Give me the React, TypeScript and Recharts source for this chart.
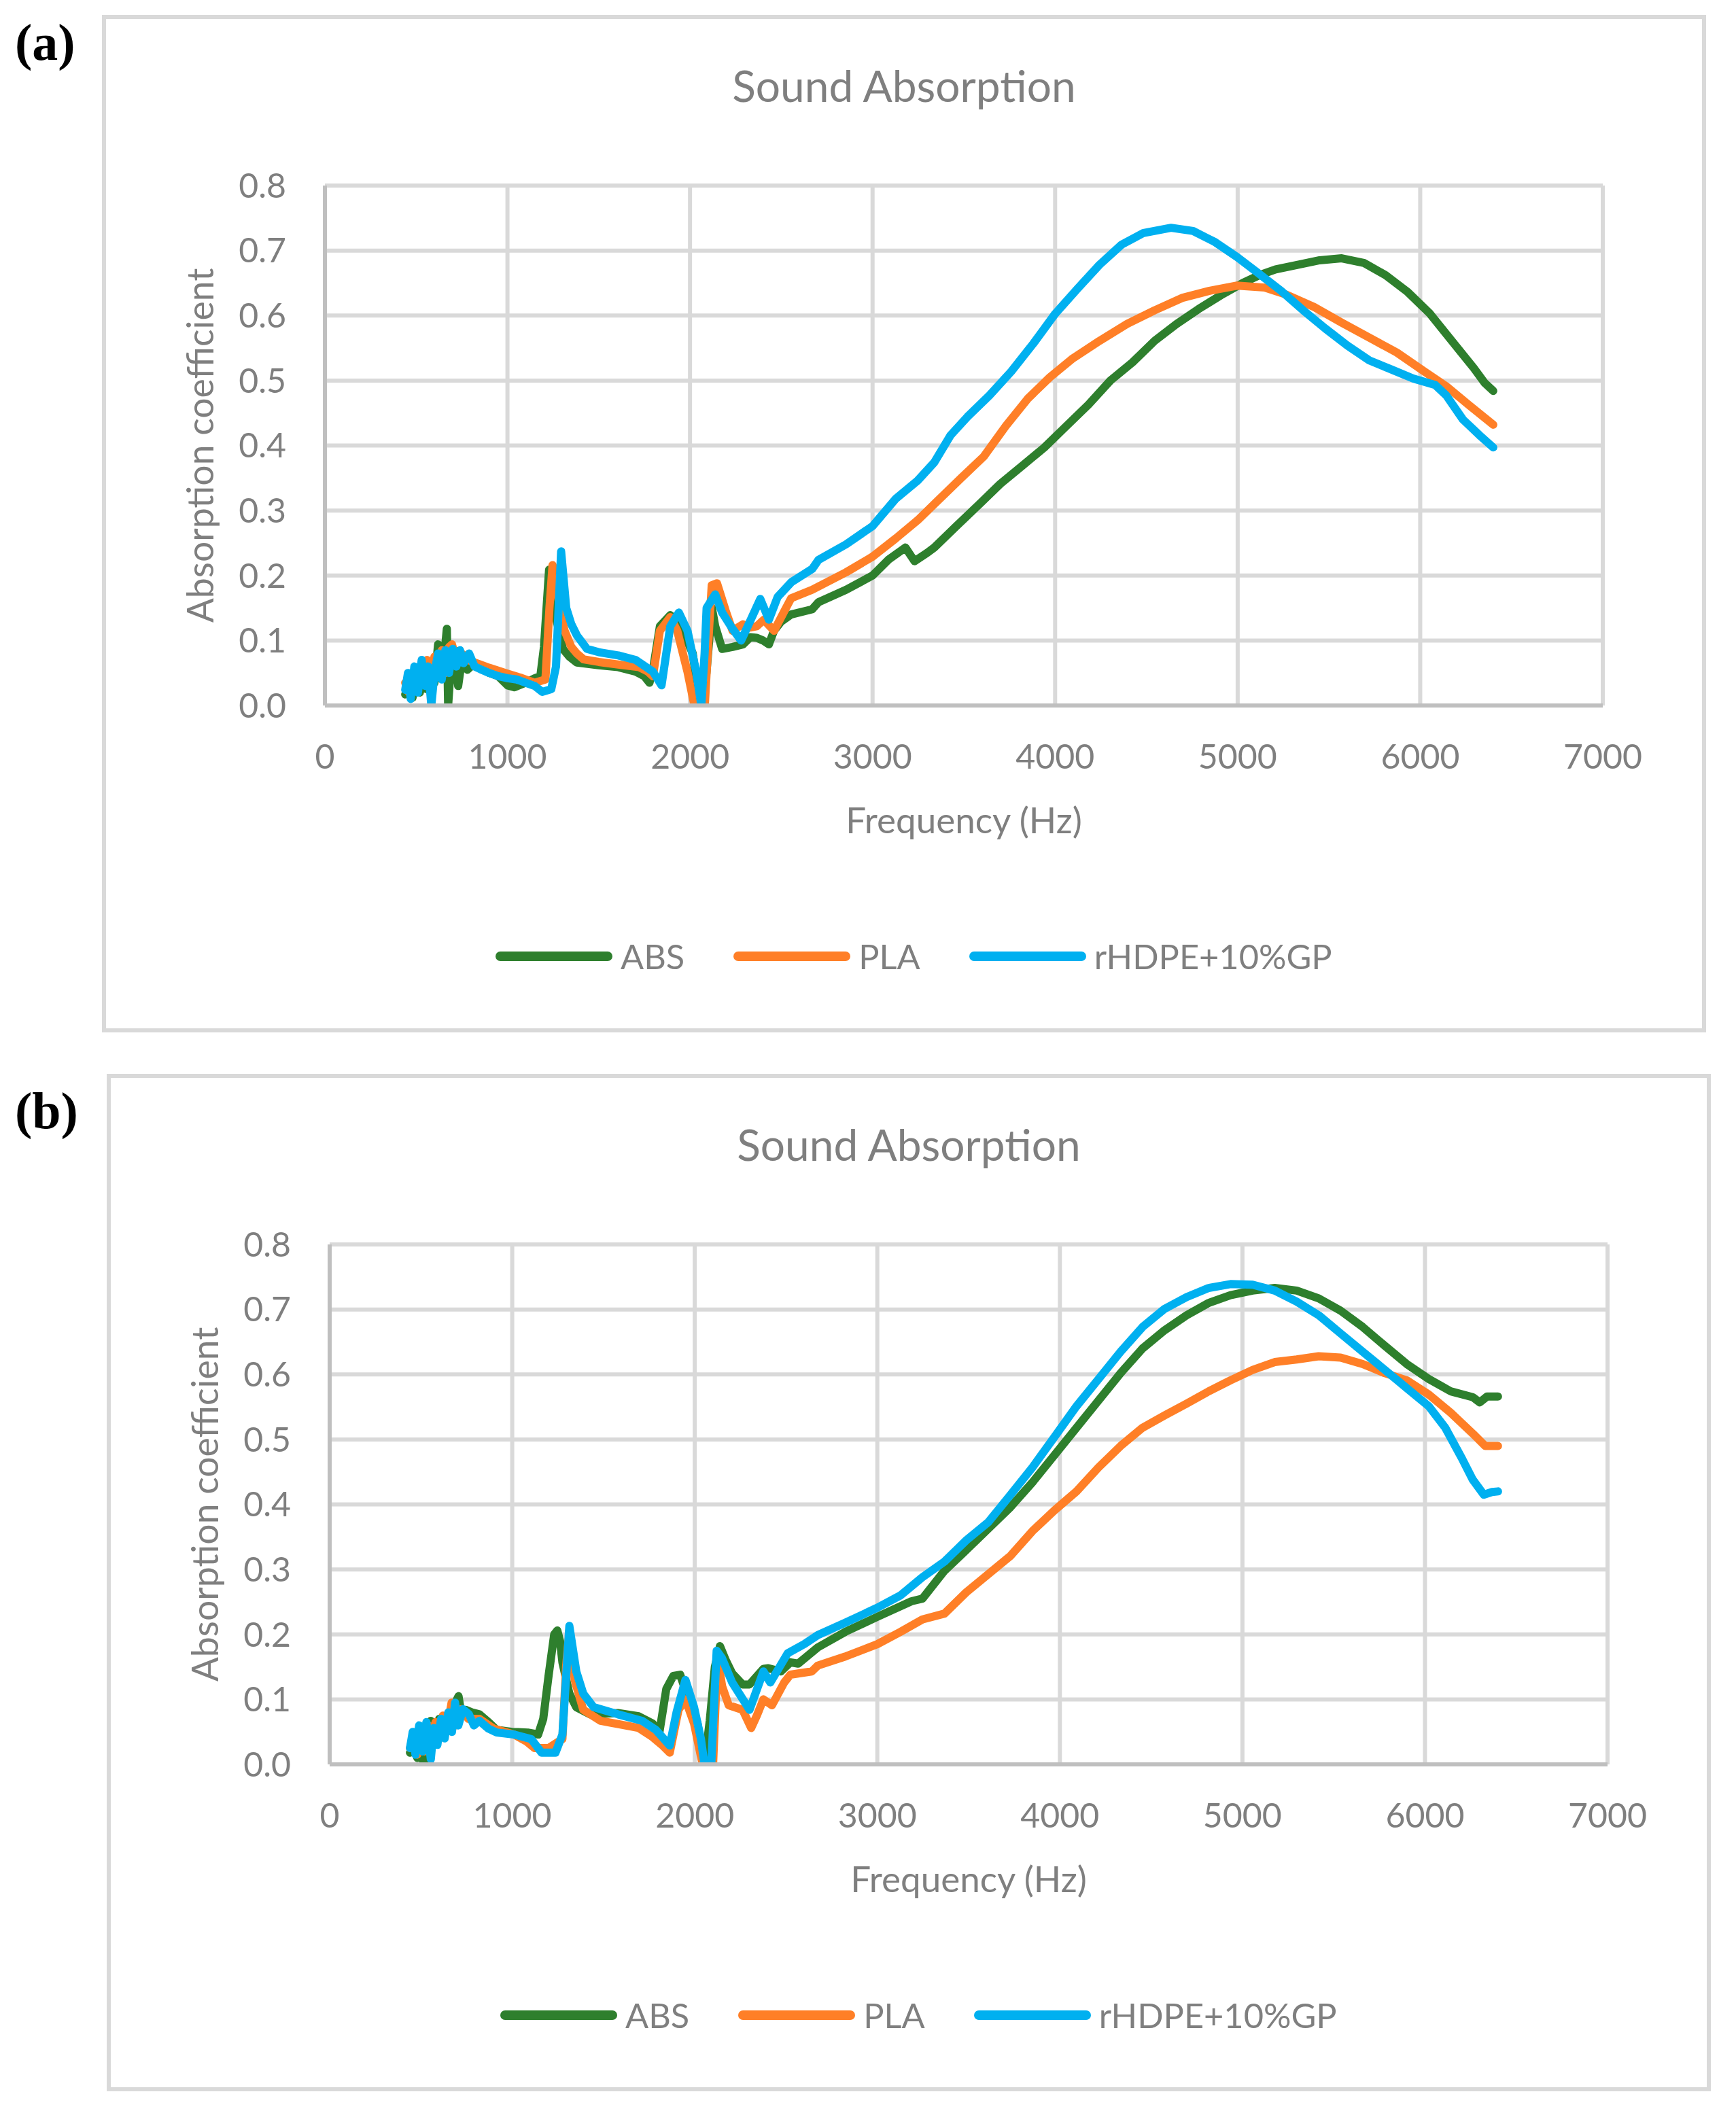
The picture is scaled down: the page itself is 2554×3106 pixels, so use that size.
import React from 'react';
import { LineChart, Line, XAxis, YAxis, CartesianGrid, Legend, Label } from 'recharts';

const X_TICKS = [0, 1000, 2000, 3000, 4000, 5000, 6000, 7000];
const Y_TICKS = [0, 0.1, 0.2, 0.3, 0.4, 0.5, 0.6, 0.7, 0.8];
const SERIES_NAMES = ['ABS', 'PLA', 'rHDPE+10%GP'];
const SERIES_COLORS = ['#2E7F2D', '#FF7F27', '#00B0F0'];

// Panel (a)
const ABS_A: [number, number][] = [
  [440, 0.017], [460, 0.03], [480, 0.012], [500, 0.04], [520, 0.02], [540, 0.05], [560, 0.025], [580, 0.06],
  [600, 0.035], [620, 0.094], [640, 0.05], [655, 0.08], [668, 0.118], [675, 0.0], [690, 0.06], [710, 0.085],
  [730, 0.03], [750, 0.07], [780, 0.055], [820, 0.065], [850, 0.059], [900, 0.05], [950, 0.045], [1000, 0.031],
  [1038, 0.028], [1100, 0.035], [1150, 0.042], [1180, 0.045], [1200, 0.09], [1228, 0.209], [1250, 0.2],
  [1270, 0.13], [1304, 0.087], [1340, 0.075], [1380, 0.066], [1500, 0.062], [1607, 0.059], [1702, 0.052],
  [1750, 0.045], [1778, 0.035], [1800, 0.06], [1835, 0.122], [1892, 0.139], [1949, 0.122], [2015, 0.08],
  [2040, 0.03], [2062, 0.0], [2090, 0.05], [2120, 0.15], [2138, 0.122], [2176, 0.087], [2233, 0.09],
  [2290, 0.094], [2330, 0.105], [2366, 0.104], [2400, 0.1], [2432, 0.094], [2460, 0.115], [2499, 0.129],
  [2554, 0.14], [2669, 0.148], [2704, 0.159], [2855, 0.178], [3000, 0.2], [3090, 0.225], [3180, 0.243],
  [3230, 0.222], [3300, 0.235], [3338, 0.243], [3459, 0.276], [3579, 0.308], [3700, 0.341], [3821, 0.369],
  [3941, 0.397], [4062, 0.43], [4183, 0.463], [4303, 0.5], [4424, 0.528], [4545, 0.561], [4665, 0.587],
  [4786, 0.61], [4907, 0.631], [5027, 0.65], [5118, 0.662], [5208, 0.671], [5329, 0.678], [5449, 0.685],
  [5570, 0.688], [5691, 0.681], [5811, 0.662], [5932, 0.636], [6053, 0.603], [6173, 0.561], [6294, 0.519],
  [6354, 0.496], [6400, 0.484],
];
const PLA_A: [number, number][] = [
  [440, 0.035], [460, 0.02], [480, 0.05], [500, 0.03], [520, 0.06], [540, 0.04], [560, 0.07], [580, 0.03],
  [600, 0.075], [620, 0.045], [640, 0.085], [660, 0.05], [680, 0.09], [696, 0.094], [720, 0.07], [750, 0.08],
  [800, 0.068], [850, 0.063], [900, 0.058], [1000, 0.049], [1080, 0.042], [1150, 0.035], [1208, 0.04],
  [1230, 0.15], [1247, 0.216], [1265, 0.2], [1285, 0.15], [1313, 0.115], [1350, 0.09], [1380, 0.08],
  [1417, 0.071], [1500, 0.067], [1607, 0.063], [1721, 0.059], [1770, 0.052], [1797, 0.045], [1835, 0.115],
  [1892, 0.136], [1930, 0.115], [1986, 0.052], [2024, 0.0], [2081, 0.0], [2105, 0.12], [2119, 0.185],
  [2148, 0.188], [2195, 0.146], [2233, 0.115], [2290, 0.125], [2330, 0.12], [2366, 0.122], [2404, 0.132],
  [2461, 0.115], [2518, 0.146], [2554, 0.165], [2669, 0.178], [2855, 0.205], [3000, 0.229], [3127, 0.257],
  [3247, 0.285], [3368, 0.318], [3489, 0.351], [3609, 0.383], [3730, 0.43], [3850, 0.472], [3971, 0.505],
  [4092, 0.533], [4243, 0.561], [4394, 0.587], [4545, 0.608], [4695, 0.627], [4846, 0.638], [4997, 0.646],
  [5148, 0.643], [5268, 0.632], [5419, 0.613], [5570, 0.589], [5721, 0.566], [5872, 0.543], [6022, 0.514],
  [6143, 0.491], [6264, 0.463], [6400, 0.432],
];
const HDPE_A: [number, number][] = [
  [440, 0.024], [455, 0.05], [470, 0.01], [490, 0.06], [510, 0.02], [530, 0.07], [550, 0.03], [565, 0.06],
  [583, 0.0], [600, 0.05], [620, 0.08], [640, 0.04], [660, 0.085], [680, 0.05], [700, 0.087], [720, 0.06],
  [740, 0.085], [760, 0.065], [790, 0.08], [820, 0.06], [850, 0.056], [900, 0.05], [950, 0.045], [1000, 0.042],
  [1050, 0.04], [1100, 0.035], [1150, 0.03], [1190, 0.021], [1240, 0.025], [1266, 0.06], [1294, 0.237],
  [1322, 0.15], [1350, 0.125], [1380, 0.108], [1436, 0.087], [1500, 0.082], [1607, 0.077], [1702, 0.07],
  [1797, 0.052], [1844, 0.031], [1892, 0.122], [1939, 0.143], [1986, 0.115], [2034, 0.052], [2062, 0.0],
  [2080, 0.08], [2091, 0.15], [2138, 0.171], [2176, 0.143], [2233, 0.118], [2280, 0.1], [2328, 0.129],
  [2385, 0.164], [2432, 0.132], [2480, 0.167], [2556, 0.19], [2669, 0.21], [2704, 0.224], [2855, 0.248],
  [3000, 0.276], [3127, 0.318], [3247, 0.346], [3338, 0.374], [3428, 0.416], [3519, 0.444], [3640, 0.477],
  [3760, 0.514], [3881, 0.557], [4001, 0.603], [4122, 0.641], [4243, 0.678], [4364, 0.709], [4484, 0.727],
  [4635, 0.735], [4756, 0.73], [4876, 0.713], [4997, 0.69], [5118, 0.664], [5238, 0.638], [5359, 0.608],
  [5480, 0.58], [5600, 0.554], [5721, 0.531], [5842, 0.517], [5962, 0.503], [6083, 0.493], [6143, 0.477],
  [6234, 0.44], [6324, 0.416], [6400, 0.397],
];

// Panel (b)
const ABS_B: [number, number][] = [
  [440, 0.018], [460, 0.03], [480, 0.01], [500, 0.02], [516, 0.0], [535, 0.05], [554, 0.067], [575, 0.04],
  [600, 0.07], [620, 0.05], [640, 0.075], [660, 0.06], [680, 0.09], [706, 0.105], [720, 0.08], [744, 0.084],
  [780, 0.08], [820, 0.077], [870, 0.065], [915, 0.053], [1000, 0.05], [1085, 0.049], [1142, 0.046],
  [1170, 0.07], [1199, 0.136], [1230, 0.2], [1247, 0.206], [1262, 0.19], [1275, 0.157], [1313, 0.109],
  [1351, 0.088], [1427, 0.077], [1579, 0.079], [1693, 0.074], [1769, 0.063], [1806, 0.049], [1844, 0.116],
  [1882, 0.136], [1920, 0.138], [1977, 0.091], [2015, 0.063], [2040, 0.02], [2053, 0.0], [2082, 0.067],
  [2110, 0.15], [2138, 0.182], [2170, 0.16], [2205, 0.14], [2262, 0.123], [2300, 0.123], [2376, 0.147],
  [2403, 0.148], [2471, 0.143], [2524, 0.157], [2566, 0.155], [2674, 0.18], [2825, 0.204], [3000, 0.227],
  [3187, 0.251], [3247, 0.255], [3368, 0.298], [3488, 0.33], [3609, 0.363], [3730, 0.396], [3850, 0.434],
  [3971, 0.476], [4091, 0.518], [4212, 0.56], [4333, 0.602], [4453, 0.64], [4574, 0.668], [4694, 0.691],
  [4815, 0.71], [4935, 0.722], [5056, 0.729], [5177, 0.733], [5297, 0.729], [5418, 0.717], [5538, 0.698],
  [5659, 0.673], [5780, 0.644], [5900, 0.616], [6021, 0.593], [6141, 0.574], [6262, 0.565], [6300, 0.557],
  [6340, 0.566], [6400, 0.566],
];
const PLA_B: [number, number][] = [
  [440, 0.025], [460, 0.045], [480, 0.015], [500, 0.05], [520, 0.02], [540, 0.06], [560, 0.03], [580, 0.065],
  [600, 0.04], [620, 0.075], [640, 0.05], [668, 0.095], [690, 0.06], [720, 0.085], [760, 0.07], [820, 0.07],
  [900, 0.055], [1009, 0.046], [1080, 0.035], [1123, 0.025], [1199, 0.025], [1275, 0.039], [1295, 0.15],
  [1313, 0.206], [1328, 0.18], [1342, 0.13], [1389, 0.084], [1484, 0.067], [1579, 0.062], [1693, 0.056],
  [1769, 0.042], [1820, 0.03], [1863, 0.018], [1911, 0.084], [1949, 0.1], [1996, 0.063], [2043, 0.0],
  [2101, 0.004], [2115, 0.1], [2129, 0.157], [2150, 0.12], [2186, 0.091], [2262, 0.084], [2309, 0.056],
  [2340, 0.075], [2376, 0.1], [2423, 0.091], [2490, 0.126], [2524, 0.138], [2641, 0.143], [2674, 0.152],
  [2825, 0.166], [3000, 0.185], [3127, 0.204], [3247, 0.223], [3368, 0.232], [3488, 0.265], [3609, 0.293],
  [3730, 0.321], [3850, 0.359], [3971, 0.391], [4091, 0.42], [4212, 0.457], [4333, 0.49], [4453, 0.518],
  [4574, 0.537], [4694, 0.555], [4815, 0.574], [4935, 0.591], [5056, 0.607], [5177, 0.619], [5297, 0.623],
  [5418, 0.628], [5538, 0.626], [5659, 0.616], [5780, 0.602], [5900, 0.591], [6021, 0.569], [6141, 0.541],
  [6262, 0.509], [6330, 0.49], [6400, 0.49],
];
const HDPE_B: [number, number][] = [
  [440, 0.025], [455, 0.05], [470, 0.015], [490, 0.06], [510, 0.02], [530, 0.065], [554, 0.008], [570, 0.056],
  [590, 0.03], [610, 0.07], [630, 0.04], [650, 0.08], [670, 0.05], [687, 0.095], [705, 0.06], [730, 0.085],
  [763, 0.077], [790, 0.06], [820, 0.067], [870, 0.055], [915, 0.049], [1009, 0.046], [1104, 0.039],
  [1161, 0.018], [1237, 0.018], [1275, 0.046], [1313, 0.213], [1351, 0.143], [1389, 0.109], [1446, 0.088],
  [1579, 0.077], [1712, 0.067], [1787, 0.053], [1863, 0.029], [1901, 0.081], [1949, 0.13], [1996, 0.088],
  [2034, 0.039], [2053, 0.0], [2091, 0.004], [2120, 0.175], [2148, 0.164], [2205, 0.126], [2300, 0.084],
  [2376, 0.143], [2414, 0.126], [2509, 0.171], [2600, 0.185], [2674, 0.199], [2825, 0.218], [3000, 0.241],
  [3127, 0.26], [3247, 0.288], [3368, 0.312], [3488, 0.345], [3609, 0.373], [3730, 0.415], [3850, 0.457],
  [3971, 0.504], [4091, 0.551], [4212, 0.593], [4333, 0.635], [4453, 0.673], [4574, 0.701], [4694, 0.719],
  [4815, 0.733], [4935, 0.739], [5056, 0.738], [5177, 0.729], [5297, 0.712], [5418, 0.691], [5538, 0.663],
  [5659, 0.635], [5780, 0.607], [5900, 0.579], [6021, 0.551], [6111, 0.518], [6202, 0.471], [6262, 0.438],
  [6322, 0.415], [6367, 0.419], [6400, 0.42],
];

const TEXT = '#7f7f7f';
const FONT = 'Lato, "Open Sans", sans-serif';

const toRows = (pts: [number, number][]) => pts.map(([f, v]) => ({ f, v }));

const BOX_W = 2360;
const BOX_H = 1497;
const BORDER = 6;
const CW = BOX_W - 2 * BORDER;
const CH = BOX_H - 2 * BORDER;

function LegendContent() {
  return (
    <div style={{ display: 'flex', justifyContent: 'flex-start', alignItems: 'center', height: 80, fontFamily: FONT, paddingLeft: 573, boxSizing: 'border-box' }}>
      {SERIES_NAMES.map((name, i) => (
        <div key={name} style={{ display: 'flex', alignItems: 'center', marginRight: i < SERIES_NAMES.length - 1 ? 72 : 0 }}>
          <div style={{ width: 172, height: 14, borderRadius: 7, background: SERIES_COLORS[i] }} />
          <span style={{ marginLeft: 12, fontSize: 50.5, color: TEXT, lineHeight: 1 }}>{name}</span>
        </div>
      ))}
    </div>
  );
}

function XLabel(props: any) {
  const vb = props.viewBox || { x: 322, y: 1010, width: 1880, height: 100 };
  return (
    <text x={vb.x + vb.width / 2} y={vb.y + 188} textAnchor="middle" fill={TEXT} fontSize={53} fontFamily={FONT}>
      Frequency (Hz)
    </text>
  );
}

function YLabel(props: any) {
  const vb = props.viewBox || { x: 0, y: 245, width: 322, height: 765 };
  const cx = 137;
  const cy = vb.y + vb.height / 2;
  return (
    <text x={cx} y={cy} textAnchor="middle" dominantBaseline="central" transform={`rotate(-90, ${cx}, ${cy})`}
      fill={TEXT} fontSize={53.5} fontFamily={FONT}>
      Absorption coefficient
    </text>
  );
}

function Panel({ left, top, series }: { left: number; top: number; series: [number, number][][] }) {
  return (
    <div style={{ position: 'absolute', left, top, width: BOX_W, height: BOX_H, boxSizing: 'border-box', border: `${BORDER}px solid #d9d9d9`, background: '#fff' }}>
      <div style={{ position: 'absolute', left: 0, top: 66, width: CW, textAlign: 'center', fontFamily: FONT, fontSize: 64, lineHeight: '64px', color: TEXT }}>
        Sound Absorption
      </div>
      <LineChart width={CW} height={CH} margin={{ top: 245, right: 146, left: 0, bottom: 375 }}>
        <CartesianGrid stroke="#d9d9d9" strokeWidth={6} />
        <XAxis type="number" dataKey="f" domain={[0, 7000]} ticks={X_TICKS} interval={0} height={100}
          tickSize={0} tickMargin={57} axisLine={{ stroke: '#bfbfbf', strokeWidth: 6 }} tickLine={false}
          tick={{ fill: TEXT, fontSize: 50, fontFamily: FONT }} allowDataOverflow>
          <Label content={XLabel} />
        </XAxis>
        <YAxis type="number" domain={[0, 0.8]} ticks={Y_TICKS} interval={0} width={322}
          tickSize={0} tickMargin={57} axisLine={{ stroke: '#bfbfbf', strokeWidth: 6 }} tickLine={false}
          tick={{ fill: TEXT, fontSize: 50, fontFamily: FONT }} tickFormatter={(v: number) => v.toFixed(1)} allowDataOverflow>
          <Label content={YLabel} />
        </YAxis>
        {series.map((pts, i) => (
          <Line key={SERIES_NAMES[i]} name={SERIES_NAMES[i]} data={toRows(pts)} dataKey="v" type="linear"
            stroke={SERIES_COLORS[i]} strokeWidth={12} strokeLinejoin="round" strokeLinecap="round"
            dot={false} activeDot={false} isAnimationActive={false} />
        ))}
        <Legend layout="horizontal" verticalAlign="middle" align="center" content={LegendContent}
          wrapperStyle={{ left: 0, top: 1339, width: CW, height: 80 }} />
      </LineChart>
    </div>
  );
}

const PANEL_LABEL_STYLE: React.CSSProperties = {
  position: 'absolute', left: 22, fontFamily: '"Liberation Serif", "DejaVu Serif", serif', fontWeight: 'bold',
  fontSize: 76, lineHeight: '76px', color: '#000',
};

export default function App() {
  return (
    <div style={{ position: 'absolute', left: 0, top: 0, width: 2554, height: 3106, background: '#fff' }}>
      <div style={{ ...PANEL_LABEL_STYLE, top: 24 }}>(a)</div>
      <div style={{ ...PANEL_LABEL_STYLE, top: 1596 }}>(b)</div>
      <Panel left={150} top={22} series={[ABS_A, PLA_A, HDPE_A]} />
      <Panel left={157} top={1580} series={[ABS_B, PLA_B, HDPE_B]} />
    </div>
  );
}
